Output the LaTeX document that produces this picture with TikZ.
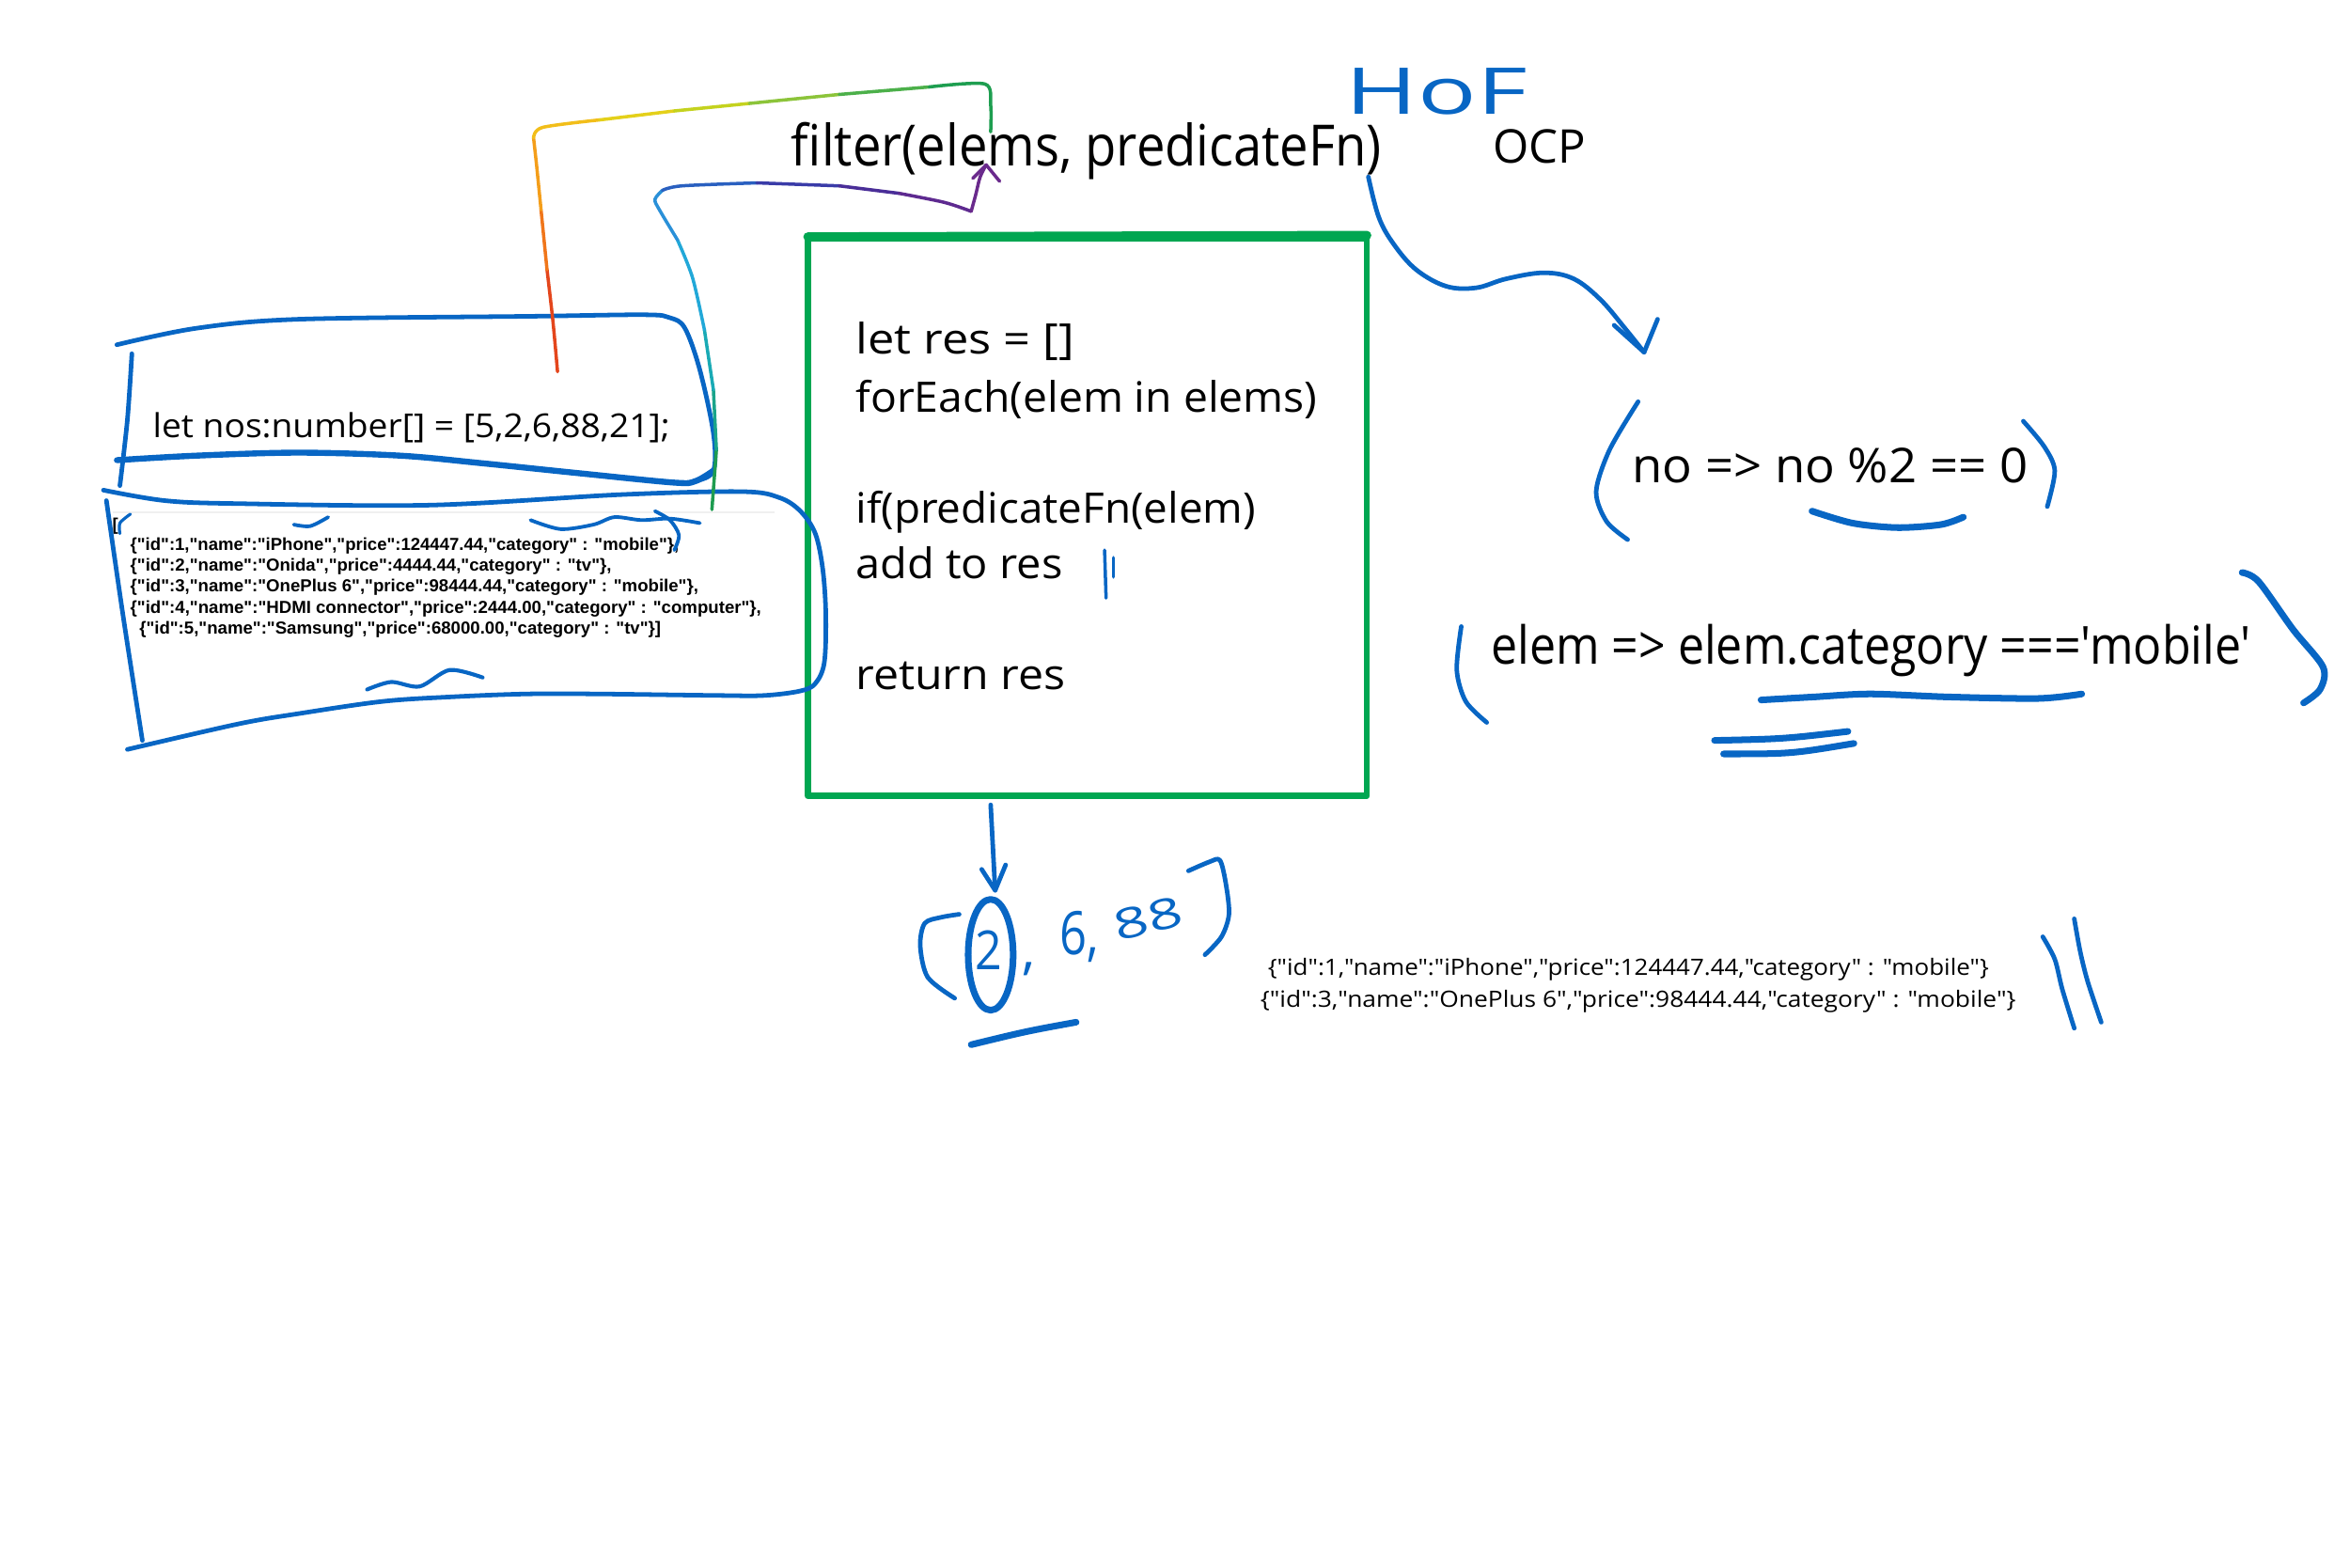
\documentclass[tikz,border=0pt]{standalone}
\usepackage{fontspec}
\usepackage{graphicx}
\setmainfont{Open Sans}
\newfontfamily\handfont{Open Sans}
\newfontfamily\jsonfont{Liberation Sans}
\definecolor{inkblue}{RGB}{8,102,196}
\definecolor{boxgreen}{RGB}{0,166,81}
\newcommand{\fw}[2]{\resizebox{#1}{\height}{#2}}
\begin{document}
\begin{tikzpicture}[x=0.5pt,y=-0.5pt,
  inkline/.style={draw=inkblue, line width=1.5pt, line cap=round, line join=round},
  inkthick/.style={draw=inkblue, line width=2.2pt, line cap=round, line join=round},
  rb/.style={line width=1.1pt, line cap=round, line join=round},
  txt/.style={anchor=base west, inner sep=0pt, outer sep=0pt},
  hand/.style={txt, text=black},
  json/.style={txt, font=\jsonfont\bfseries\fontsize{5.8}{7}\selectfont}
]
\useasboundingbox (0,0) rectangle (1568,1046);
\fill[white] (0,0) rectangle (1568,1046);

% ---------- title texts ----------
\node[hand, font=\handfont\fontsize{19}{22}\selectfont] (filter) at (528,111) {\fw{197pt}{filter(elems, predicateFn)}};
\node[hand, font=\handfont\fontsize{15.5}{18}\selectfont] (ocp) at (996,109) {\fw{31pt}{OCP}};
\node[txt, text=inkblue, font=\handfont\fontsize{21.5}{24}\selectfont] (hof) at (898,76) {\fw{60.5pt}{HoF}};

% ---------- green box ----------
\draw[boxgreen, line width=2.1pt, line join=round] (539,159) rectangle (912,531);
\draw[boxgreen, line width=3pt, line cap=round] (539,158) -- (912,157);
\node[hand, font=\handfont\fontsize{14}{16}\selectfont] (l1) at (571,236) {\fw{73pt}{let res = []}};
\node[hand, font=\handfont\fontsize{14}{16}\selectfont] (l2) at (571,275) {\fw{154pt}{forEach(elem in elems)}};
\node[hand, font=\handfont\fontsize{14}{16}\selectfont] (l3) at (571,349) {\fw{133.5pt}{if(predicateFn(elem)}};
\node[hand, font=\handfont\fontsize{14}{16}\selectfont] (l4) at (571,386) {\fw{69pt}{add to res}};
\node[hand, font=\handfont\fontsize{14}{16}\selectfont] (l5) at (571,460) {\fw{70pt}{return res}};
\draw[inkline, line width=1.1pt] (737,367) -- (738,399);
\draw[inkline, line width=1.1pt] (743,372) -- (743,385);

% ---------- left boxes ----------
\node[hand, font=\handfont\fontsize{11}{13}\selectfont] (nos) at (102,292) {\fw{172.5pt}{let nos:number[] = [5,2,6,88,21];}};
\draw[inkline] plot[smooth, tension=0.55] coordinates {(78,230) (131,219) (199,213) (355,211) (430,210) (447,212) (457,219) (467,247) (476,289) (476,314) (464,321) (450,322) (389,316) (321,309) (267,304) (199,302) (131,304) (78,307)};
\draw[inkthick, line width=2pt] plot[smooth, tension=0.55] coordinates {(476,314) (464,321) (450,322) (389,316) (321,309) (267,304) (199,302) (131,304) (78,307)};
\draw[inkline] plot[smooth] coordinates {(88,236) (85,280) (80,324)};

\draw[gray!12, line width=0.6pt] (75,342) -- (517,342);
\node[json] (jb) at (75,354) {[};
\node[json] (j1) at (87,367) {\fw{183pt}{\{"id":1,"name":"iPhone","price":124447.44,"category" : "mobile"\},}};
\node[json] (j2) at (87,381) {\fw{160.5pt}{\{"id":2,"name":"Onida","price":4444.44,"category" : "tv"\},}};
\node[json] (j3) at (87,395) {\fw{189.5pt}{\{"id":3,"name":"OnePlus 6","price":98444.44,"category" : "mobile"\},}};
\node[json] (j4) at (87,409) {\fw{210.5pt}{\{"id":4,"name":"HDMI connector","price":2444.00,"category" : "computer"\},}};
\node[json] (j5) at (93,423) {\fw{174pt}{\{"id":5,"name":"Samsung","price":68000.00,"category" : "tv"\}]}};

\draw[inkline] plot[smooth, tension=0.55] coordinates {(69,327) (110,334) (159,336) (287,337) (414,330) (495,328) (520,332) (534,341) (544,356) (549,380) (551,410) (550,442) (544,456) (534,461) (510,464) (479,464) (400,463) (351,463) (300,465) (255,468) (200,476) (159,483) (85,500)};
\draw[inkline] plot[smooth] coordinates {(71,334) (82,410) (95,494)};
\draw[inkline, line width=1pt] plot[smooth] coordinates {(87,343) (80,349) (80,356)};
\draw[inkline, line width=1.2pt] plot[smooth] coordinates {(196,350) (207,351) (219,345)};
\draw[inkline, line width=1.2pt] plot[smooth] coordinates {(354,347) (374,353) (396,350) (410,345) (428,347) (447,346) (467,349)};
\draw[inkline, line width=1.2pt] plot[smooth] coordinates {(437,341) (447,347) (453,357) (450,367)};
\draw[inkline, line width=1.3pt] plot[smooth] coordinates {(245,460) (261,455) (280,458) (300,447) (322,452)};

% ---------- rainbow connector A (nos -> filter) ----------
\coordinate (nosSrc) at (372,248);
\coordinate (filterTop) at (661,88);
\draw[rb, draw={rgb,255:red,228;green,70;blue,28}] plot[smooth] coordinates {(nosSrc) (369,215) (365,180)};
\draw[rb, draw={rgb,255:red,240;green,118;blue,26}] plot[smooth] coordinates {(365,180) (361,140)};
\draw[rb, draw={rgb,255:red,244;green,158;blue,26}] plot[smooth] coordinates {(361,140) (358,110) (356,92)};
\draw[rb, draw={rgb,255:red,242;green,190;blue,26}] plot[smooth] coordinates {(356,92) (362,85) (400,80)};
\draw[rb, draw={rgb,255:red,228;green,208;blue,26}] (400,80) -- (450,74);
\draw[rb, draw={rgb,255:red,196;green,210;blue,30}] (450,74) -- (500,69);
\draw[rb, draw={rgb,255:red,140;green,196;blue,58}] (500,69) -- (560,63);
\draw[rb, draw={rgb,255:red,76;green,176;blue,74}] (560,63) -- (620,58);
\draw[rb, draw={rgb,255:red,30;green,158;blue,80}] plot[smooth] coordinates {(620,58) (657,56) (661,70) (filterTop)};

% ---------- rainbow connector B (json -> filter) ----------
\coordinate (jsonSrc) at (475,340);
\coordinate (filterIn) at (658,110);
\draw[rb, draw={rgb,255:red,30;green,156;blue,80}] plot[smooth] coordinates {(jsonSrc) (478,300)};
\draw[rb, draw={rgb,255:red,26;green,164;blue,138}] plot[smooth] coordinates {(478,300) (476,260)};
\draw[rb, draw={rgb,255:red,26;green,170;blue,181}] plot[smooth] coordinates {(476,260) (470,220)};
\draw[rb, draw={rgb,255:red,34;green,168;blue,216}] plot[smooth] coordinates {(470,220) (462,185) (452,160)};
\draw[rb, draw={rgb,255:red,42;green,144;blue,216}] plot[smooth] coordinates {(452,160) (440,140) (437,133) (442,127)};
\draw[rb, draw={rgb,255:red,42;green,96;blue,192}] plot[smooth] coordinates {(442,127) (455,124) (505,122)};
\draw[rb, draw={rgb,255:red,58;green,60;blue,168}] (505,122) -- (560,124);
\draw[rb, draw={rgb,255:red,74;green,46;blue,152}] (560,124) -- (600,129);
\draw[rb, draw={rgb,255:red,94;green,42;blue,144}] plot[smooth] coordinates {(600,129) (630,135) (648,141)};
\draw[rb, draw={rgb,255:red,106;green,42;blue,140}] plot[smooth] coordinates {(648,141) (651,130) (654,118) (filterIn)};
\draw[rb, draw={rgb,255:red,106;green,42;blue,140}] (649,119) -- (filterIn) -- (667,121);

% ---------- HoF arrow to predicates ----------
\coordinate (hofStart) at (913,118);
\coordinate (hofTip) at (1097,235);
\draw[inkline] plot[smooth, tension=0.6] coordinates {(hofStart) (920,145) (930,163) (945,180) (965,191) (985,192) (1005,186) (1030,182) (1050,186) (1068,200) (1085,220) (hofTip)};
\draw[inkline] (1077,217) -- (hofTip) -- (1106,213);

% ---------- predicate 1 ----------
\node[hand, font=\handfont\fontsize{16}{19}\selectfont] (p1) at (1089,322) {\fw{132pt}{no => no \%2 == 0}};
\draw[inkline] plot[smooth] coordinates {(1093,268) (1074,300) (1065,328) (1072,348) (1086,360)};
\draw[inkline] plot[smooth] coordinates {(1350,281) (1364,298) (1371,314) (1366,338)};
\draw[inkthick] plot[smooth] coordinates {(1209,341) (1236,349) (1266,352) (1295,350) (1310,345)};

% ---------- predicate 2 ----------
\node[hand, font=\handfont\fontsize{17.5}{20}\selectfont] (p2) at (995,443) {\fw{253.5pt}{elem => elem.category ==='mobile'}};
\draw[inkline] plot[smooth] coordinates {(975,418) (972,447) (978,468) (992,482)};
\draw[inkthick] plot[smooth] coordinates {(1496,382) (1507,388) (1530,420) (1550,445) (1548,460) (1537,469)};
\draw[inkthick] plot[smooth] coordinates {(1175,467) (1210,465) (1248,463) (1300,465) (1360,466) (1389,463)};
\draw[inkthick] (1144,494) .. controls (1190,493) .. (1233,488);
\draw[inkthick] (1150,503) .. controls (1195,503) .. (1237,496);

% ---------- result ----------
\coordinate (boxOut) at (661,537);
\coordinate (resIn) at (664,594);
\draw[inkline] (boxOut) -- (resIn);
\draw[inkline] (655,580) -- (resIn) -- (671,577);
\draw[inkthick] (661,637) ellipse (15 and 37);
\node[txt, text=inkblue, font=\handfont\fontsize{18}{20}\selectfont] (two) at (651,647) {\fw{9pt}{2}};
\draw[inkline] plot[smooth] coordinates {(640,610) (628,612) (617,616) (614,631) (619,652) (637,666)};
\node[txt, text=inkblue, font=\handfont\fontsize{18}{20}\selectfont] (comma) at (682,646) {,};
\node[txt, text=inkblue, font=\handfont\fontsize{20}{22}\selectfont] (six) at (707,637) {\fw{13pt}{6,}};
\node[txt, text=inkblue, font=\handfont\fontsize{14}{16}\selectfont, rotate=14] (eight) at (746,628) {\fw{23pt}{88}};
\draw[inkline] plot[smooth] coordinates {(793,581) (807,575) (814,574) (818,590) (820,610) (815,625) (804,637)};
\draw[inkthick] (648,697) .. controls (685,688) .. (718,682);

\node[hand, font=\handfont\fontsize{7.5}{9}\selectfont] (r1) at (846,651) {\fw{240.5pt}{\{"id":1,"name":"iPhone","price":124447.44,"category" : "mobile"\}}};
\node[hand, font=\handfont\fontsize{7.5}{9}\selectfont] (r2) at (841,672) {\fw{252pt}{\{"id":3,"name":"OnePlus 6","price":98444.44,"category" : "mobile"\}}};
\draw[inkline] plot[smooth] coordinates {(1363,625) (1371,640) (1376,660) (1384,686)};
\draw[inkline] plot[smooth] coordinates {(1384,613) (1388,635) (1393,655) (1402,682)};
\end{tikzpicture}
\end{document}
